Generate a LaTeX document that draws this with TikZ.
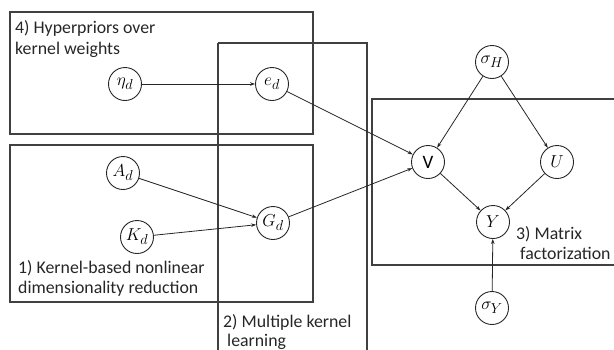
\documentclass[tikz,border=0pt]{standalone}
\usepackage{fontspec}
\setmainfont{Carlito}
\usetikzlibrary{arrows.meta}
\begin{document}
\begin{tikzpicture}[x=1pt,y=-1pt,
  var/.style={draw=black!85,circle,line width=0.9pt,minimum size=33pt,inner sep=0pt,font=\fontsize{19}{19}\selectfont},
  plate/.style={draw=black!75,line width=1.2pt},
  lab/.style={anchor=base west,inner sep=0pt,font=\fontsize{17.8}{21}\selectfont,text=black!85},
  edge/.style={-{Stealth[length=5pt,width=3.5pt]},draw=black!85,line width=0.8pt}]
\useasboundingbox (0,0) rectangle (614,349);
% plates
\draw[plate] (10,12) rectangle (313,134);
\draw[plate] (10,145) rectangle (313,302);
\draw[plate] (218,43) -- (367,43) -- (367,352);
\draw[plate] (218,352) -- (218,43);
\draw[plate] (616,99) -- (372,99) -- (372,265) -- (616,265);
% labels
\node[lab] (l4a) at (15,33) {4) Hyperpriors over};
\node[lab] (l4b) at (15,54) {kernel weights};
\node[lab] (l1a) at (18,273) {1) Kernel-based nonlinear};
\node[lab] (l1b) at (18,293) {dimensionality reduction};
\node[lab] (l2a) at (223,327) {2) Multiple kernel};
\node[lab] (l2b) at (227,346) {learning};
\node[lab] (l3a) at (516,239) {3) Matrix};
\node[lab] (l3b) at (520,259) {factorization};
% nodes
\node[var] (eta) at (125,84) {$\eta_d$};
\node[var] (e) at (272,84) {$e_d$};
\node[var] (A) at (123,173) {$A_d$};
\node[var] (K) at (137,237) {$K_d$};
\node[var] (G) at (273,223) {$G_d$};
\node[var] (V) at (428,162) {V};
\node[var] (U) at (557,162) {$U$};
\node[var] (Y) at (493,222) {$Y$};
\node[var] (sH) at (492,62) {$\sigma_H$};
\node[var] (sY) at (492,308) {$\sigma_Y$};
% edges
\draw[edge] (eta) -- (e);
\draw[edge] (e) -- (V);
\draw[edge] (A) -- (G);
\draw[edge] (K) -- (G);
\draw[edge] (G) -- (V);
\draw[edge] (sH) -- (V);
\draw[edge] (sH) -- (U);
\draw[edge] (V) -- (Y);
\draw[edge] (U) -- (Y);
\draw[edge] (sY) -- (Y);
\end{tikzpicture}
\end{document}
